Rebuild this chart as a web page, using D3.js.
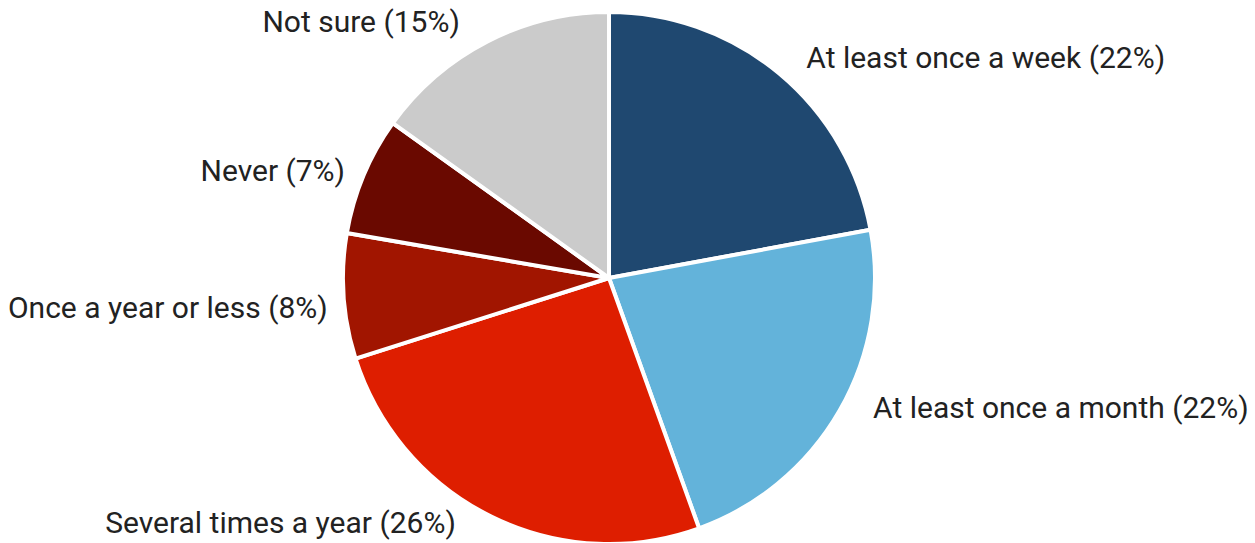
<!DOCTYPE html>
<html><head><meta charset="utf-8">
<script src="https://cdn.jsdelivr.net/npm/d3@7"></script>
<style>html,body{margin:0;padding:0;background:#fff;}svg{display:block;}</style>
</head><body>
<svg id="chart" width="1255" height="543"></svg>
<script>
const categories = ["At least once a week", "At least once a month", "Several times a year", "Once a year or less", "Never", "Not sure"];
const values = [22.1, 22.4, 25.6, 7.6, 7.2, 15.1];
const colors = ["#1f4870", "#63b3da", "#de1e00", "#a11500", "#6a0900", "#cbcbcb"];
// layout nudges for labels (dx, dy) relative to the label-arc point
const labelNudge = [[15,9],[17,-2],[-27,-1],[3,20],[-1,13],[-19,8]];

const svg = d3.select("#chart");
const cx = 609, cy = 278, r = 266, lr = 285;
const data = categories.map((c,i)=>({cat:c, val:values[i], color:colors[i], i}));
const pie = d3.pie().value(d=>d.val).sort(null);
const arcs = pie(data);
const arc = d3.arc().innerRadius(0).outerRadius(r);
const g = svg.append("g").attr("transform",`translate(${cx},${cy})`);
g.selectAll("path").data(arcs).join("path")
  .attr("d", arc).attr("fill", d=>d.data.color)
  .attr("stroke","#fff").attr("stroke-width",4).attr("stroke-linejoin","round");
g.selectAll("text").data(arcs).join("text")
  .each(function(d){
    const a = (d.startAngle+d.endAngle)/2;
    const s = Math.sin(a), c = Math.cos(a);
    const n = labelNudge[d.data.i];
    d3.select(this)
      .attr("x", lr*s + n[0]).attr("y", -lr*c + n[1])
      .attr("text-anchor", s>=0 ? "start" : "end");
  })
  .attr("font-family","Roboto, sans-serif").attr("font-size",30).attr("fill","#222")
  .text(d=>`${d.data.cat} (${Math.round(d.data.val)}%)`);
</script>
</body></html>
